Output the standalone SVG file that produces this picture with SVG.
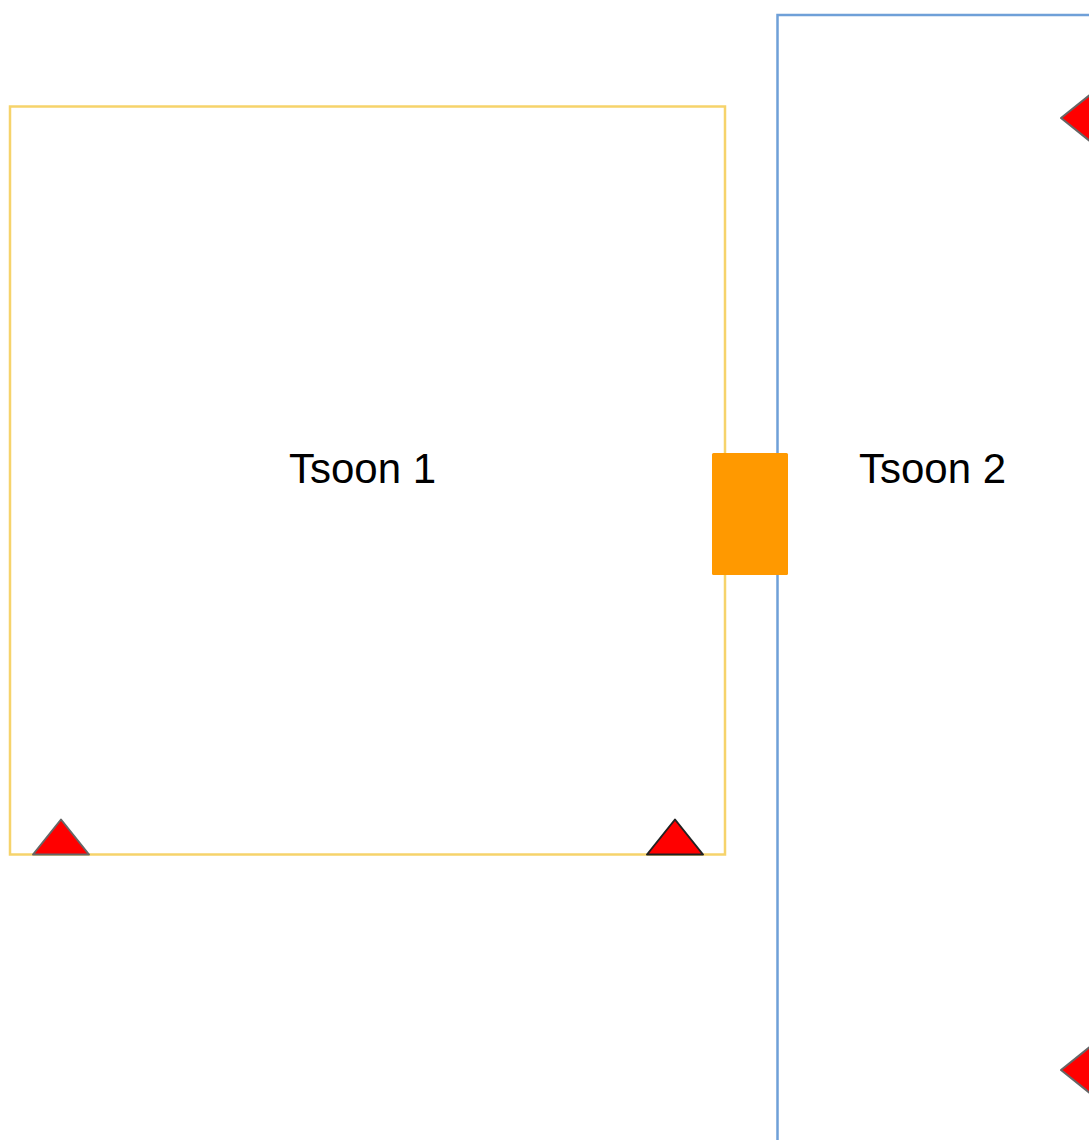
<svg xmlns="http://www.w3.org/2000/svg" width="1089" height="1140" viewBox="0 0 1089 1140">
<style>
.lbl{font-family:"Liberation Sans",Arial,sans-serif;font-size:42px;fill:#000;text-anchor:middle}
.tri{fill:#ff0000;stroke-width:2;stroke-linejoin:round}
</style>
<rect width="1089" height="1140" fill="#fff"/>
<g id="zone1">
<rect x="10" y="106.5" width="715" height="748" fill="none" stroke="#f6d36b" stroke-width="2.5"/>
<text class="lbl" x="362.5" y="483">Tsoon 1</text>
</g>
<g id="zone2">
<rect x="777.5" y="15" width="400" height="1200" fill="none" stroke="#6fa0d8" stroke-width="2.5"/>
<text class="lbl" x="932.5" y="483">Tsoon 2</text>
</g>
<g id="connectors">
<rect id="door" x="712" y="453" width="76" height="122" rx="1.5" fill="#ff9900"/>
</g>
<g id="markers">
<polygon class="tri" points="33,854.5 89,854.5 61,819.5" stroke="#666"/>
<polygon class="tri" points="647,854.5 703,854.5 675,819.5" stroke="#222"/>
<polygon class="tri" points="1061,118 1096,90 1096,146" stroke="#666"/>
<polygon class="tri" points="1061,1070 1096,1042 1096,1098" stroke="#666"/>
</g>
</svg>
